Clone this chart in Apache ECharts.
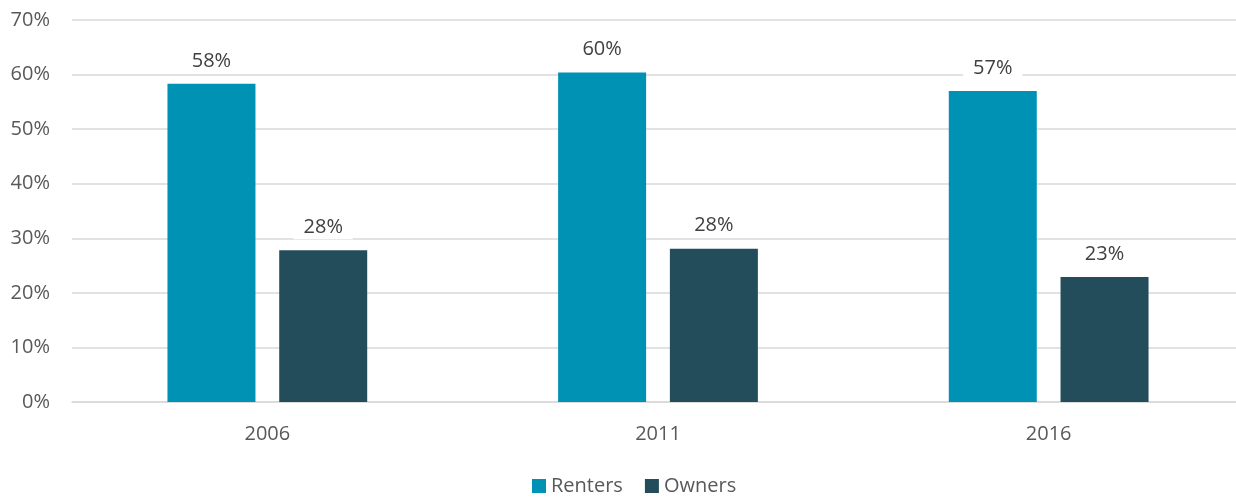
<!DOCTYPE html>
<html>
<head>
<meta charset="utf-8">
<script src="https://cdn.jsdelivr.net/npm/echarts@6/dist/echarts.min.js"></script>
<style>
  html, body { margin: 0; padding: 0; background: #fff; }
  #chart { width: 1236px; height: 498px; }
</style>
</head>
<body>
<div id="chart"></div>
<script>
// Share of households by tenure, census years
const years = ['2006', '2011', '2016'];
const renters = [58.3, 60.4, 57.0];
const owners = [27.8, 28.1, 22.9];
const yTicks = [0, 10, 20, 30, 40, 50, 60, 70];

const FONT = '"Open Sans", sans-serif';
const chart = echarts.init(document.getElementById('chart'));

const valueLabel = {
  show: true,
  position: 'top',
  distance: 11,
  formatter: p => Math.round(p.value) + '%',
  color: '#404040',
  fontFamily: FONT,
  fontSize: 20,
  backgroundColor: '#fff',
  padding: [2, 10]
};

chart.setOption({
  animation: false,
  textStyle: { fontFamily: FONT },
  // plot area runs slightly past the right edge of the canvas
  grid: { left: 72, width: 1172, top: 20, bottom: 96, outerBoundsMode: 'none', containLabel: false },
  legend: {
    top: 476,
    left: 532,
    padding: 0,
    itemWidth: 14,
    itemHeight: 14,
    itemGap: 22,
    icon: 'rect',
    textStyle: { color: '#595959', fontSize: 20, fontFamily: FONT },
    data: ['Renters', 'Owners']
  },
  xAxis: {
    type: 'category',
    data: years,
    axisTick: { show: false },
    axisLine: { lineStyle: { color: '#d9d9d9', width: 1.5 } },
    axisLabel: { color: '#595959', fontSize: 20, fontFamily: FONT, margin: 22 }
  },
  yAxis: {
    type: 'value',
    min: yTicks[0],
    max: yTicks[yTicks.length - 1],
    interval: 10,
    axisLine: { show: false },
    axisTick: { show: false },
    splitLine: { lineStyle: { color: '#d9d9d9', width: 1.5 } },
    axisLabel: { color: '#595959', fontSize: 20, fontFamily: FONT, margin: 22, formatter: '{value}%' }
  },
  series: [
    {
      name: 'Renters',
      type: 'bar',
      data: renters,
      barWidth: 88,
      barGap: '27%',
      itemStyle: { color: '#0092B4' },
      label: valueLabel
    },
    {
      name: 'Owners',
      type: 'bar',
      data: owners,
      barWidth: 88,
      itemStyle: { color: '#244D5B' },
      label: valueLabel
    }
  ]
});
</script>
</body>
</html>
